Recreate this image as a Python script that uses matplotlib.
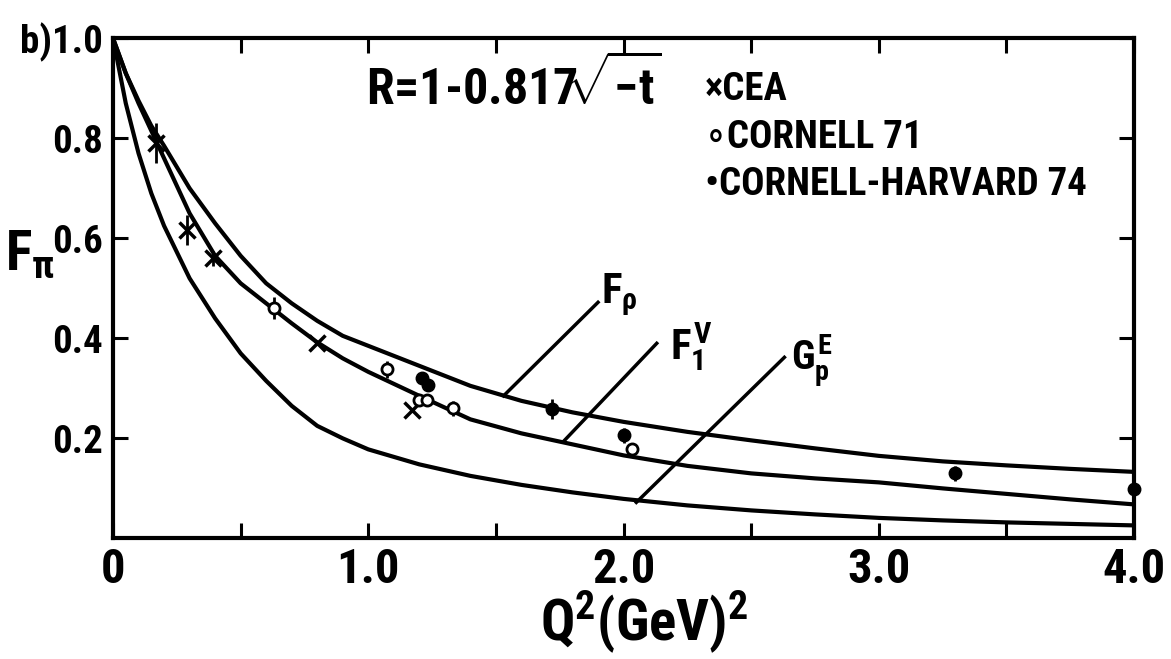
import matplotlib
matplotlib.use('Agg')
import matplotlib.pyplot as plt
from matplotlib import font_manager
import numpy as np

# curves
q2_grid = [0.0, 0.05, 0.1, 0.15, 0.2, 0.3, 0.4, 0.5, 0.6, 0.7, 0.8, 0.9, 1.0, 1.2, 1.4, 1.6,
           1.8, 2.0, 2.25, 2.5, 2.75, 3.0, 3.25, 3.5, 3.75, 4.0]
f_rho = [1.0, 0.93, 0.875, 0.825, 0.785, 0.70, 0.63, 0.565, 0.51, 0.47, 0.435, 0.405, 0.385,
         0.345, 0.305, 0.275, 0.252, 0.233, 0.213, 0.196, 0.18, 0.165, 0.154, 0.146, 0.139, 0.133]
f1_v = [1.0, 0.93, 0.87, 0.815, 0.76, 0.65, 0.565, 0.51, 0.47, 0.43, 0.392, 0.36, 0.333,
        0.285, 0.238, 0.21, 0.188, 0.166, 0.145, 0.13, 0.12, 0.112, 0.10, 0.089, 0.078, 0.068]
gep_e = [1.0, 0.87, 0.77, 0.69, 0.625, 0.52, 0.44, 0.37, 0.315, 0.265, 0.225, 0.2, 0.178,
         0.148, 0.125, 0.107, 0.092, 0.079, 0.066, 0.056, 0.048, 0.041, 0.036, 0.032, 0.029, 0.026]

cea_x = [0.17, 0.29, 0.39, 0.80, 1.17]
cea_y = [0.79, 0.617, 0.56, 0.39, 0.257]
cea_err = [0.04, 0.03, 0.015, 0.0, 0.0]
c71_x = [0.63, 1.075, 1.20, 1.23, 1.33, 2.035]
c71_y = [0.46, 0.338, 0.277, 0.277, 0.26, 0.178]
c71_err = [0.022, 0.017, 0.0, 0.0, 0.015, 0.0]
ch_x = [1.21, 1.235, 1.72, 2.0, 3.30, 4.0]
ch_y = [0.321, 0.306, 0.258, 0.206, 0.13, 0.098]
ch_err = [0.0, 0.0, 0.02, 0.015, 0.015, 0.015]

x_ticks = [0, 1.0, 2.0, 3.0, 4.0]
x_ticklabels = ['0', '1.0', '2.0', '3.0', '4.0']
y_ticks = [0.2, 0.4, 0.6, 0.8, 1.0]
y_ticklabels = ['0.2', '0.4', '0.6', '0.8', 'b)1.0']
legend_labels = ['\u00d7CEA', '\u2218CORNELL 71', '\u2022CORNELL-HARVARD 74']

# pick a narrow face if one is installed
names = {f.name for f in font_manager.fontManager.ttflist}
narrow = [n for n in ['Liberation Sans Narrow', 'Roboto Condensed', 'Open Sans Condensed',
                      'DejaVu Sans Condensed'] if n in names]
FONT = narrow[:1] + ['DejaVu Sans']
plt.rcParams['font.family'] = FONT
plt.rcParams['font.weight'] = 'bold'
plt.rcParams['font.stretch'] = 'condensed'
plt.rcParams['mathtext.fontset'] = 'custom'
plt.rcParams['mathtext.rm'] = FONT[0] + ':bold'
plt.rcParams['mathtext.it'] = FONT[0] + ':bold'
plt.rcParams['mathtext.bf'] = FONT[0] + ':bold'

fig = plt.figure(figsize=(11.71, 6.59), dpi=100)
ax = fig.add_axes([0.0965, 0.183, 0.872, 0.759])

lw = 3.0
ax.plot(q2_grid, f_rho, color='black', lw=lw)
ax.plot(q2_grid, f1_v, color='black', lw=lw)
ax.plot(q2_grid, gep_e, color='black', lw=lw)

ax.errorbar(cea_x, cea_y, yerr=cea_err, fmt='x', color='black', ms=11, mew=2.5,
            elinewidth=2, capsize=0)
ax.errorbar(c71_x, c71_y, yerr=c71_err, fmt='o', mfc='white', mec='black', color='black',
            ms=8, mew=2, elinewidth=2, capsize=0)
ax.errorbar(ch_x, ch_y, yerr=ch_err, fmt='o', color='black', ms=9, elinewidth=2,
            capsize=0, clip_on=False)

# leader lines and curve labels
ax.plot([1.53, 1.90], [0.285, 0.472], color='black', lw=2.5)
ax.plot([1.765, 2.13], [0.194, 0.39], color='black', lw=2.5)
ax.plot([2.05, 2.63], [0.072, 0.362], color='black', lw=2.5)
ax.text(1.91, 0.47, r'$F_\rho$', fontsize=31, va='baseline', ha='left')
ax.text(2.18, 0.357, r'$F_1^V$', fontsize=31, va='baseline', ha='left')
ax.text(2.655, 0.335, r'$G_p^E$', fontsize=29, va='baseline', ha='left')

ax.text(0.99, 0.867, r'R=1-0.817$\!\!\sqrt{-t}$', fontsize=36, va='baseline', ha='left')

for lab, yy in zip(legend_labels, [0.877, 0.781, 0.687]):
    ax.text(2.32, yy, lab, fontsize=28, va='baseline', ha='left')

ax.set_xlim(0, 4.0)
ax.set_ylim(0, 1.0)
ax.set_xticks(x_ticks)
ax.set_xticklabels(x_ticklabels, fontsize=35, fontweight='bold')
ax.set_xticks(np.arange(0.5, 4.0, 1.0), minor=True)
ax.set_yticks(y_ticks)
ax.set_yticklabels(y_ticklabels, fontsize=28, fontweight='bold')
ax.tick_params(axis='both', which='both', direction='in', length=11, width=2.2,
               top=True, right=True)
ax.tick_params(axis='x', which='major', pad=6)
ax.tick_params(axis='y', which='major', pad=7)
for s in ax.spines.values():
    s.set_linewidth(3)

ax.set_xlabel(r'Q$^2$(GeV)$^2$', fontsize=41, fontweight='bold')
ax.xaxis.set_label_coords(0.52, -0.1)
fig.text(0.004, 0.612, r'$F_\pi$', fontsize=40, ha='left', va='center')

fig.savefig('out.png', dpi=100)
